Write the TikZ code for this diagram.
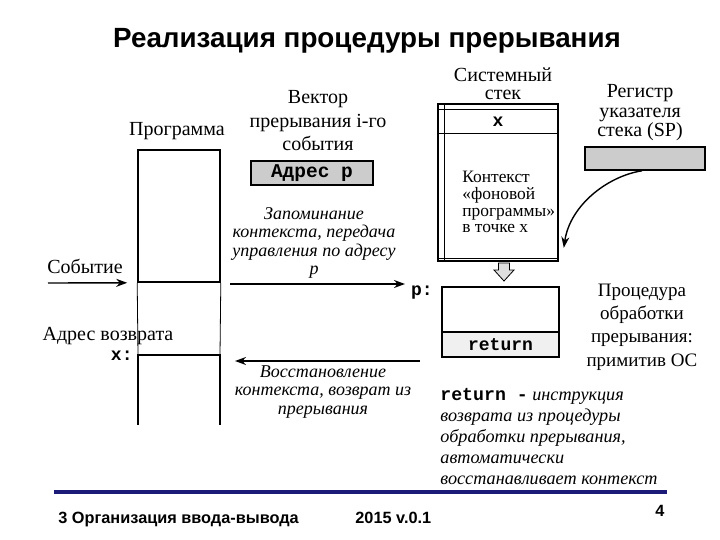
\documentclass[tikz,border=0pt]{standalone}
\usepackage{fontspec}
\setmainfont{Liberation Serif}
\setsansfont{Liberation Sans}
\setmonofont{Liberation Mono}
\usetikzlibrary{arrows.meta}
\definecolor{slideblue}{RGB}{28,28,120}

\begin{document}
\begin{tikzpicture}[x=1pt,y=-1pt,thick]
	\tikzset{lbl/.style={font=\fontsize{20}{23.5}\selectfont, align=center, inner sep=0pt},
		note/.style={font=\fontsize{18}{18.5}\selectfont\itshape, align=center, inner sep=0pt},
		code/.style={font=\fontsize{18}{20}\selectfont\ttfamily\bfseries, inner sep=0pt},
		arr/.style={-{Stealth[length=11pt,width=8pt]}, line width=1.4pt},
		box/.style={draw, line width=1.6pt, inner sep=0pt},
		foot/.style={font=\fontsize{16.3}{18}\sffamily\bfseries, inner sep=0pt}}
	\useasboundingbox (0,0) rectangle (720,540);

	\node[font=\fontsize{27.8}{30}\sffamily\bfseries] (title) at (367,41) {Реализация процедуры прерывания};

	% program
	\node[lbl] (prog) at (177,131) {Программа};
	\node[box, minimum width=82pt, minimum height=132pt] (prgtop) at (179,216) {};
	\coordinate (prgx) at (138,355);
	\coordinate (prgxr) at (220,355);
	\draw[line width=0.8pt] (prgtop.south west) -- (prgx) (prgtop.south east) -- (prgxr);
	\draw[line width=1.6pt] (138,425) -- (prgx) -- (prgxr) -- (220,425);
	\node[lbl] (event) at (85,266) {Событие};
	\coordinate (evin) at (48,283);
	\draw[arr] (evin) -- ([xshift=-10pt]prgtop.south west);
	\node[lbl] (retaddr) at (108,336) {Адрес возврата};
	\node[code, anchor=east] (xlbl) at (133,356) {x:};

	% vector
	\node[lbl] (vec) at (318,121) {Вектор\\прерывания i-го\\события};
	\node[box, fill=gray!40, minimum width=122pt, minimum height=24pt, code, font=\fontsize{19.5}{20}\selectfont\ttfamily\bfseries] (vecaddr) at (312,173) {Адрес p};

	\node[note] (save) at (314,243) {Запоминание\\контекста, передача\\управления по адресу\\p};
	\coordinate (goin) at (230,284);
	\coordinate (goout) at (405,284);
	\draw[arr] (goin) -- (goout);
	\coordinate (backin) at (420,361);
	\coordinate (backout) at (235,361);
	\draw[arr] (backin) -- (backout);
	\node[note] (restore) at (323,392) {Восстановление\\контекста, возврат из\\прерывания};

	% stack
	\node[lbl, font=\fontsize{20}{18}\selectfont] (stktitle) at (503,84) {Системный\\стек};
	\node[box, minimum width=120pt, minimum height=157pt] (stack) at (498,182.5) {};
	\draw[line width=0.8pt] ([xshift=7pt]stack.north west) -- ([xshift=7pt]stack.south west);
	\draw[line width=0.8pt] ([yshift=-6pt]stack.north west) -- ([yshift=-6pt]stack.north east);
	\draw[line width=0.8pt] ([yshift=3pt]stack.south west) -- ([yshift=3pt]stack.south east);
	\draw[line width=1pt] ([yshift=-30pt]stack.north west) -- ([yshift=-30pt]stack.north east);
	\node[code] (xcell) at (498,122) {x};
	\node[font=\fontsize{17.4}{16.8}\selectfont, align=left, anchor=west, inner sep=0pt] (ctx) at (462,202) {Контекст\\«фоновой\\программы»\\в точке x};

	\node[lbl, font=\fontsize{20}{19.5}\selectfont] (sptitle) at (640,113) {Регистр\\указателя\\стека (SP)};
	\node[box, fill=gray!40, minimum width=120pt, minimum height=23pt] (sp) at (645,158.5) {};
	\draw[arr] ([xshift=-3pt]sp.south) .. controls (608,176) and (570,205) .. ([shift={(5pt,14pt)}]stack.south east);

	\draw[line width=0.8pt, fill=gray!25] (498.5,263) -- (509.5,263) -- (509.5,270) -- (514,270) -- (504,281) -- (494,270) -- (498.5,270) -- cycle;

	% procedure
	\node[box, fill=gray!12, minimum width=117pt, minimum height=25pt, code] (ret) at (500.5,344.5) {return};
	\node[box, minimum width=117pt, minimum height=45pt] (proc) at (500.5,309.5) {};
	\node[code, anchor=east] (plbl) at (433,293) {p:};
	\node[lbl, font=\fontsize{19}{23.3}\selectfont] (proctxt) at (642,327) {Процедура\\обработки\\прерывания:\\примитив ОС};

	\node[note, align=left, anchor=west, font=\fontsize{18.2}{20.8}\selectfont\itshape] (rettxt) at (440,436.5) {{\upshape\ttfamily\bfseries return -} инструкция\\возврата из процедуры\\обработки прерывания,\\автоматически\\восстанавливает контекст};

	% footer
	\coordinate (lnl) at (54,492);
	\coordinate (lnr) at (667,492);
	\draw[slideblue, line width=3.5pt] (lnl) -- (lnr);
	\node[foot, anchor=base west] (chap) at (58,523) {3 Организация ввода-вывода};
	\node[foot, anchor=base west] (ver) at (355,523) {2015 v.0.1};
	\node[foot, anchor=base] (page) at (660,516) {4};
\end{tikzpicture}
\end{document}
